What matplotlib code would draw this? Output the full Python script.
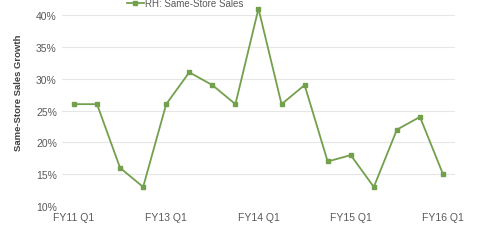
import matplotlib
matplotlib.use("Agg")
import matplotlib.pyplot as plt
import numpy as np

plt.rcParams["font.family"] = ["Liberation Sans", "DejaVu Sans"]

# same-store sales growth, %, by quarter
sales = [26, 26, 16, 13, 26, 31, 29, 26, 41, 26, 29, 17, 18, 13, 22, 24, 15]
tick_pos = [0, 4, 8, 12, 16]
tick_labels = ["FY11 Q1", "FY13 Q1", "FY14 Q1", "FY15 Q1", "FY16 Q1"]
y_ticks = [10, 15, 20, 25, 30, 35, 40]

green = "#72A04C"
grey = "#595959"

fig = plt.figure(figsize=(4.8, 2.51), dpi=100)
ax = fig.add_axes([0.130, 0.175, 0.817, 0.812])

x = np.arange(len(sales))
ax.plot(x, sales, color=green, lw=1.3, marker="s", ms=2.5,
        label="RH: Same-Store Sales")

ax.set_xlim(-0.5, len(sales) - 0.5)
ax.set_ylim(10, 42)
ax.set_yticks(y_ticks)
ax.set_yticklabels([f"{v}%" for v in y_ticks])
ax.set_xticks(tick_pos)
ax.set_xticklabels(tick_labels)
ax.tick_params(length=0, labelsize=7.5, colors=grey, pad=4)
ax.grid(axis="y", color="#E6E6E6", lw=0.8)
ax.set_axisbelow(True)
for s in ax.spines.values():
    s.set_visible(False)

fig.text(0.038, 0.63, "Same-Store Sales Growth", rotation=90, ha="center",
         va="center", fontsize=6.8, fontweight="bold", color="#404040")

fig.legend(loc="center", bbox_to_anchor=(185 / 480, 1 - 4 / 251), frameon=False,
           fontsize=7.0, labelcolor=grey, handlelength=1.8, handletextpad=0.1,
           borderaxespad=0)

fig.savefig("out.png", dpi=100)
